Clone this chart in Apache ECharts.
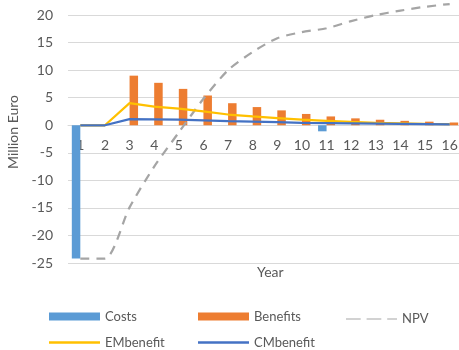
<!DOCTYPE html>
<html>
<head>
<meta charset="utf-8">
<script src="https://cdn.jsdelivr.net/npm/echarts@6/dist/echarts.min.js"></script>
<style>html,body{margin:0;padding:0;background:#fff}#c{width:459px;height:350px}</style>
</head>
<body>
<div id="c"></div>
<script>
const years = ['1','2','3','4','5','6','7','8','9','10','11','12','13','14','15','16'];
const costs = [-24.2, 0, 0, 0, 0, 0, 0, 0, 0, 0, -1.1, 0, 0, 0, 0, 0];
const benefits = [0, 0, 9.0, 7.7, 6.6, 5.4, 4.0, 3.3, 2.7, 2.05, 1.6, 1.25, 1.0, 0.8, 0.65, 0.5];
const npv = [-24.2, -24.2, -14.9, -7.5, -1.3, 4.8, 10.0, 13.3, 15.8, 16.9, 17.6, 18.9, 20.0, 20.8, 21.5, 22.0];
const emBenefit = [0, 0, 4.0, 3.4, 3.0, 2.5, 1.95, 1.6, 1.3, 1.0, 0.8, 0.6, 0.45, 0.35, 0.25, 0.2];
const cmBenefit = [0, 0, 1.1, 1.05, 1.0, 0.9, 0.75, 0.65, 0.55, 0.45, 0.4, 0.35, 0.3, 0.25, 0.2, 0.15];
const yTicks = [-25, 25, 5];

const FONT = 'Lato';
const GREY = '#595959';
const GRID_TOP = -12.5, GRID_BOTTOM = 87, H = 350;
const plotH = H - GRID_TOP - GRID_BOTTOM;
const zeroOffset = -plotH * (0 - yTicks[0]) / (yTicks[1] - yTicks[0]);
const chart = echarts.init(document.getElementById('c'));
function legendAt(name, left, top, icon, h) {
  return {
    data: [{ name: name, icon: icon }], left: left, top: top,
    itemWidth: 51, itemHeight: h, itemGap: 0, padding: 0,
    textStyle: { fontFamily: FONT, fontSize: 13, color: GREY }
  };
}
const dashIcon = 'path://M0,0h15v1h-15z M21,0h15v1h-15z M42,0h10v1h-10z';
chart.setOption({
  animation: false,
  textStyle: { fontFamily: FONT },
  grid: { left: 68, right: -3, top: GRID_TOP, bottom: GRID_BOTTOM, outerBoundsMode: 'none', containLabel: false },
  title: [
    { text: 'Year', left: 257, top: 265, padding: 0, textStyle: { fontFamily: FONT, fontSize: 14, fontWeight: 'normal', color: GREY } }
  ],
  graphic: [
    { type: 'text', left: 6, top: 95, rotation: Math.PI / 2,
      style: { text: 'Million Euro', fontFamily: FONT, fontSize: 14, fill: GREY } }
  ],
  legend: [
    legendAt('Costs', 49, 310, 'rect', 8),
    legendAt('Benefits', 198, 310, 'rect', 8),
    legendAt('NPV', 346, 312.5, dashIcon, 2.5),
    legendAt('EMbenefit', 49, 336, 'rect', 2.5),
    legendAt('CMbenefit', 198, 336, 'rect', 2.5)
  ],
  xAxis: {
    type: 'category', data: years, position: 'bottom', offset: zeroOffset,
    axisLine: { show: true, onZero: false, lineStyle: { color: '#D9D9D9', width: 1 } },
    axisTick: { show: false },
    axisLabel: { fontFamily: FONT, fontSize: 14, color: GREY, margin: 13 }
  },
  yAxis: {
    type: 'value', min: yTicks[0], max: yTicks[1], interval: yTicks[2],
    axisLine: { show: false }, axisTick: { show: false },
    axisLabel: { fontFamily: FONT, fontSize: 14, color: GREY, margin: 15 },
    splitLine: { lineStyle: { color: '#D9D9D9', width: 1 } }
  },
  series: [
    { name: 'Costs', type: 'bar', data: costs, barWidth: 8.5, barGap: '0%',
      itemStyle: { color: '#5B9BD5' } },
    { name: 'Benefits', type: 'bar', data: benefits, barWidth: 8.5, barGap: '0%',
      itemStyle: { color: '#ED7D31' } },
    { name: 'NPV', type: 'line', data: npv, symbol: 'none', smooth: 0.25,
      lineStyle: { color: '#A5A5A5', width: 2.25, type: [9, 7] }, itemStyle: { color: '#A5A5A5' } },
    { name: 'EMbenefit', type: 'line', data: emBenefit, symbol: 'none',
      lineStyle: { color: '#FFC000', width: 2.25 }, itemStyle: { color: '#FFC000' } },
    { name: 'CMbenefit', type: 'line', data: cmBenefit, symbol: 'none',
      lineStyle: { color: '#4472C4', width: 2.25 }, itemStyle: { color: '#4472C4' } }
  ]
});
</script>
</body>
</html>
